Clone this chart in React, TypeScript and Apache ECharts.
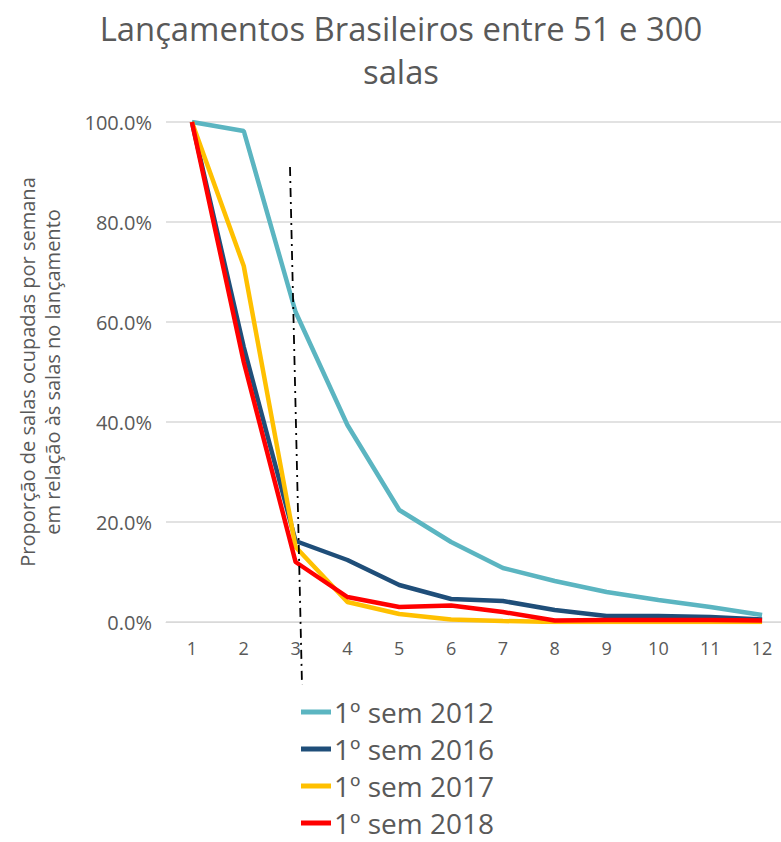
import React, { useEffect, useRef } from "react";
import * as echarts from "echarts";

const weeks = ["1", "2", "3", "4", "5", "6", "7", "8", "9", "10", "11", "12"];
const sem2012 = [100, 98.2, 62, 39.4, 22.4, 16, 10.8, 8.2, 6, 4.4, 3, 1.4];
const sem2016 = [100, 55, 16.2, 12.4, 7.4, 4.6, 4.2, 2.4, 1.2, 1.2, 1, 0.5];
const sem2017 = [100, 71.2, 15, 4, 1.6, 0.5, 0.2, 0, 0, 0, 0, 0];
const sem2018 = [100, 52, 12, 5, 3, 3.3, 2, 0.3, 0.4, 0.4, 0.4, 0.3];
const seriesNames = ["1º sem 2012", "1º sem 2016", "1º sem 2017", "1º sem 2018"];
const colors = ["#5BB5C1", "#1F4E79", "#FFC000", "#FF0000"];

export default function App() {
  const ref = useRef<HTMLDivElement>(null);
  useEffect(() => {
    const chart = echarts.init(ref.current!, null, { renderer: "svg" });
    const font = "'Open Sans', 'Noto Sans', sans-serif";
    const data = [sem2012, sem2016, sem2017, sem2018];
    chart.setOption({
      animation: false,
      backgroundColor: "#ffffff",
      textStyle: { fontFamily: font },
      title: {
        text: "Lançamentos Brasileiros entre 51 e 300\nsalas",
        left: 396,
        textAlign: "center",
        top: 2,
        textStyle: { fontSize: 32.8, fontWeight: "normal", color: "#595959", lineHeight: 43, fontFamily: font },
      },
      grid: { left: 166, right: 12, top: 122, height: 500, containLabel: false },
      xAxis: {
        type: "category",
        data: weeks,
        boundaryGap: true,
        axisLine: { show: true, lineStyle: { color: "#d9d9d9", width: 1 } },
        axisTick: { show: false },
        axisLabel: { color: "#595959", fontSize: 18, margin: 17 },
      },
      yAxis: {
        type: "value",
        min: 0,
        max: 100,
        interval: 20,
        name: "Proporção de salas ocupadas por semana\nem relação às salas no lançamento",
        nameLocation: "middle",
        nameRotate: 90,
        nameGap: 101,
        nameTextStyle: { color: "#595959", fontSize: 20, lineHeight: 25 },
        axisLine: { show: false },
        axisTick: { show: false },
        splitLine: { lineStyle: { color: "#d9d9d9", width: 1.5 } },
        axisLabel: {
          color: "#595959",
          fontSize: 20,
          margin: 14,
          formatter: (v: number) => v.toFixed(1) + "%",
        },
      },
      legend: {
        orient: "vertical",
        left: 301,
        top: 698,
        padding: 0,
        itemWidth: 30,
        itemHeight: 5,
        itemGap: 9,
        icon: "rect",
        textStyle: { color: "#595959", fontSize: 28, lineHeight: 28, padding: [0, 0, 0, -2] },
        data: seriesNames,
      },
      series: data.map((d, i) => ({
        name: seriesNames[i],
        type: "line",
        data: d,
        symbol: "none",
        smooth: false,
        lineStyle: { color: colors[i], width: 4.5 },
        itemStyle: { color: colors[i] },
      })),
      graphic: [
        {
          type: "line",
          shape: { x1: 290, y1: 167, x2: 302, y2: 685 },
          style: { stroke: "#000000", lineWidth: 1.8, lineDash: [9, 5, 2, 5] },
          z: 100,
        },
      ],
    });
    return () => chart.dispose();
  }, []);
  return (
    <div style={{ width: 781, height: 842, overflow: "hidden", position: "absolute", left: 0, top: 0 }}>
      <div ref={ref} style={{ width: 800, height: 842 }} />
    </div>
  );
}
